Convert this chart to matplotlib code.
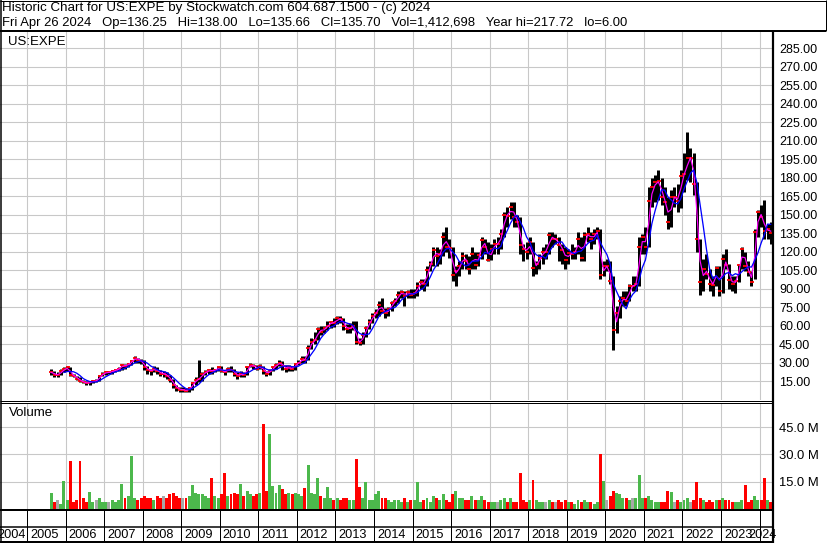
import numpy as np
import pandas as pd
import matplotlib
matplotlib.use("Agg")
import matplotlib.pyplot as plt
from matplotlib.transforms import offset_copy

plt.rcParams['font.family'] = ['Liberation Sans', 'DejaVu Sans']

W, H = 830, 543
PX = 0.72  # one pixel in points at 100 dpi

# monthly bars, Aug 2005 .. Apr 2024
first_year, first_month = 2005, 8

closes = [
    22, 20, 20, 23, 24.5,                                   # 2005
    26, 20, 19, 17, 15, 14, 13, 14, 15, 15, 19, 21,         # 2006
    22, 22, 23, 24, 25, 28, 27, 29, 31, 34, 32, 31,         # 2007
    26, 24, 23, 25, 23, 21, 21, 19, 16, 12, 9, 8,           # 2008
    8, 7, 9, 13, 16, 17, 21, 22, 24, 23, 24, 26,            # 2009
    23, 22, 25, 24, 21, 19, 21, 20, 26, 28, 27, 25,         # 2010
    27, 23, 21, 23, 26, 28, 30, 27, 25, 26, 25, 29,         # 2011
    30, 33, 32, 42, 47, 48, 57, 55, 58, 60, 63, 62,         # 2012
    66, 65, 60, 57, 58, 60, 47, 46, 52, 58, 63, 68,         # 2013
    70, 77, 72, 70, 73, 78, 80, 85, 87, 84, 87, 85,         # 2014
    86, 92, 95, 94, 105, 110, 121, 116, 118, 132, 124, 123, # 2015
    101, 104, 108, 116, 112, 106, 118, 109, 117, 129, 124, 113,  # 2016
    122, 126, 126, 134, 150, 149, 156, 148, 144, 125, 122, 120,  # 2017
    128, 107, 110, 115, 120, 120, 133, 130, 130, 125, 121, 113,  # 2018
    119, 118, 120, 130, 115, 133, 134, 130, 134, 137, 101, 108,  # 2019
    108, 96, 56, 70, 80, 82, 80, 92, 92, 94, 124, 132,           # 2020
    124, 161, 172, 176, 177, 164, 160, 144, 164, 164, 161, 181,  # 2021
    183, 196, 196, 175, 130, 95, 106, 102, 94, 93, 107, 88,      # 2022
    114, 109, 97, 94, 96, 109, 122, 108, 103, 95, 136, 152,      # 2023
    148, 137, 138, 135,                                          # 2024
]

highs = [
    25, 23, 22, 25, 26,
    27, 26, 21, 19, 18, 16, 15, 15, 16, 17, 20, 22,
    23, 23, 24, 25, 26, 29, 29, 30, 32, 35, 34, 33,
    32, 27, 25, 27, 26, 24, 23, 22, 20, 17, 12, 10,
    10, 9, 10, 14, 18, 32, 22, 24, 25, 26, 25, 27,
    27, 24, 26, 27, 25, 22, 23, 22, 27, 30, 29, 28,
    29, 27, 23, 25, 27, 30, 32, 31, 28, 28, 27, 30,
    32, 35, 35, 44, 50, 55, 59, 60, 60, 64, 64, 66,
    68, 68, 66, 61, 62, 64, 64, 50, 55, 60, 65, 70,
    73, 80, 82, 74, 75, 80, 82, 88, 89, 88, 89, 90,
    90, 95, 98, 98, 108, 112, 124, 124, 122, 136, 140, 130,
    124, 108, 112, 120, 118, 116, 124, 120, 120, 132, 130, 128,
    126, 130, 132, 138, 152, 156, 160, 160, 150, 148, 126, 128,
    132, 128, 112, 118, 124, 126, 136, 136, 134, 132, 126, 124,
    122, 126, 124, 136, 132, 136, 140, 136, 138, 140, 138, 112,
    114, 112, 100, 76, 84, 88, 88, 94, 100, 100, 132, 134,
    140, 172, 180, 182, 186, 180, 172, 164, 170, 172, 175, 186,
    200, 217, 204, 200, 176, 130, 114, 118, 106, 100, 108, 108,
    118, 122, 110, 100, 100, 110, 124, 120, 112, 104, 138, 154,
    158, 162, 142, 144,
]

lows = [
    20, 18, 18, 20, 22,
    23, 19, 18, 16, 14, 13, 12, 12, 13, 14, 15, 19,
    20, 21, 21, 22, 23, 24, 25, 26, 28, 30, 30, 29,
    24, 21, 20, 22, 21, 19, 18, 17, 14, 9, 7, 6,
    6, 6, 6, 8, 12, 14, 15, 20, 21, 21, 22, 23,
    22, 20, 22, 22, 19, 17, 18, 18, 20, 26, 25, 24,
    25, 21, 19, 20, 23, 25, 27, 24, 22, 23, 23, 24,
    28, 30, 30, 32, 41, 45, 48, 52, 54, 56, 58, 59,
    61, 62, 56, 54, 54, 56, 45, 44, 45, 51, 57, 62,
    66, 68, 70, 66, 68, 72, 76, 78, 82, 76, 82, 82,
    82, 84, 90, 88, 92, 104, 108, 108, 110, 116, 120, 115,
    96, 92, 100, 106, 106, 102, 106, 106, 108, 114, 118, 112,
    113, 118, 118, 122, 132, 140, 146, 140, 140, 118, 112, 114,
    118, 100, 102, 106, 110, 114, 118, 124, 126, 112, 110, 106,
    110, 114, 114, 118, 112, 112, 128, 122, 126, 130, 98, 100,
    104, 94, 40, 54, 66, 76, 76, 80, 88, 88, 92, 118,
    118, 124, 156, 160, 162, 158, 150, 138, 140, 156, 152, 155,
    168, 178, 176, 166, 120, 85, 88, 98, 88, 84, 92, 84,
    86, 106, 90, 88, 86, 95, 106, 104, 100, 92, 98, 132,
    140, 130, 130, 126,
]

# volume in millions of shares
volumes = [
    8.7, 4, 5, 3, 15.6,
    5, 26.5, 4, 5, 26.5, 6, 4, 9.6, 4, 5, 6, 4,
    4, 4, 5, 4, 5, 14, 6, 7, 29, 6, 5, 6,
    7, 6, 6, 5, 7, 6, 7, 6, 8, 9, 7, 6,
    6, 6, 7, 13, 9, 8, 8, 7, 6, 17, 7, 6,
    8, 19.6, 7, 8, 9, 8, 14, 7, 10, 8, 7, 8,
    9, 47, 10, 41.5, 12.7, 9, 13.4, 11, 8, 9, 8, 9,
    8, 7, 11.6, 24, 9, 8, 17, 7, 6, 12, 6, 5,
    6, 5, 6, 6, 5, 5, 27.7, 12, 6, 15, 5, 5,
    8, 10, 6, 6, 5, 4, 5, 5, 4, 6, 4, 5,
    5, 15, 4, 5, 6, 4, 7, 6, 5, 8, 5, 4,
    8, 10, 6, 6, 5, 5, 7, 5, 5, 7, 5, 4,
    4, 4, 4, 5, 6, 4, 6, 4, 4, 19.6, 5, 4,
    5, 16, 5, 4, 4, 4, 5, 4, 4, 5, 4, 5,
    4, 4, 3, 5, 4, 5, 4, 4, 3, 4, 30, 15.6,
    5, 7, 10, 9, 8, 6, 6, 5, 6, 6, 18.5, 6,
    6, 7, 5, 4, 4, 4, 4, 10, 9.5, 4, 5, 4,
    5, 6, 4, 5, 15, 6, 5, 4, 5, 4, 5, 5,
    6, 5, 5, 4, 4, 4, 5, 13, 4, 5, 7, 5,
    5, 17, 5, 4,
]

price_ticks = list(range(15, 286, 15))
vol_ticks = [15, 30, 45]
years = list(range(2004, 2025))

title_line = "Historic Chart for US:EXPE by Stockwatch.com 604.687.1500 - (c) 2024"
quote_line = ("Fri Apr 26 2024   Op=136.25   Hi=138.00   Lo=135.66   Cl=135.70   "
              "Vol=1,412,698   Year hi=217.72   lo=6.00")

n = len(closes)
t = first_year + (np.arange(n) + first_month - 1 + 0.5) / 12
s = pd.Series(closes, dtype=float)
ma_fast = s.rolling(2, min_periods=1).mean()
ma_slow = s.rolling(5, min_periods=5).mean()

chg = np.diff(np.r_[closes[0] - 1, closes])
vol_colors = np.where(chg > 0, '#4cb84c', np.where(chg < 0, '#ff0000', '#a8a8a8'))

XLIM = (2004.30, 2024.35)
GRID = '#c8c8c8'

fig = plt.figure(figsize=(W / 100, H / 100), dpi=100)
fig.patch.set_facecolor('white')


def px_axes(x0, y0, x1, y1):
    return fig.add_axes([x0 / W, 1 - y1 / H, (x1 - x0) / W, (y1 - y0) / H])


def style(ax, fs):
    ax.set_xlim(XLIM)
    ax.set_xticks(years[1:])
    ax.tick_params(axis='x', length=0, labelbottom=False)
    ax.yaxis.tick_right()
    ax.tick_params(axis='y', length=0, pad=4.3, labelsize=fs, labelcolor='black')
    ax.grid(True, color=GRID, lw=1.1 * PX)
    ax.set_axisbelow(True)
    for sp in ax.spines.values():
        sp.set_visible(False)


# price panel
ax = px_axes(0, 31, 773, 400)
style(ax, 9.0)
ax.set_ylim(-0.4, 298.8)
ax.set_yticks(price_ticks)
ax.set_yticklabels([f"{v:.2f}" for v in price_ticks])
ax.vlines(t, lows, highs, color='black', lw=3.0 * PX, zorder=3)
ax.plot(t + 0.01, closes, ls='none', marker='_', ms=3, mew=1.8 * PX,
        color='red', zorder=4)
ax.plot(t, ma_fast, color='#ff00ff', lw=1.2 * PX, zorder=5)
ax.plot(t, ma_slow, color='#0000ff', lw=1.3 * PX, zorder=5)
ax.text(8 / 773, 1 - 11 / 369, "US:EXPE", transform=ax.transAxes,
        ha='left', va='center', fontsize=9.5)

# volume panel
axv = px_axes(0, 403, 773, 509)
style(axv, 9.4)
axv.set_ylim(0, 58.3)
axv.set_yticks(vol_ticks)
axv.set_yticklabels([f"{v:.1f} M" for v in vol_ticks])
axv.bar(t, volumes, width=0.92 / 12, color=vol_colors, linewidth=0, zorder=3)
axv.text(9 / 773, 1 - 10 / 106, "Volume", transform=axv.transAxes,
         ha='left', va='center', fontsize=9.5)

# date strip
axd = px_axes(0, 509, 773, 541)
axd.set_xlim(XLIM)
axd.set_ylim(0, 1)
axd.axis('off')
axd.vlines(years[1:], 0, 1, color='black', lw=1 * PX)
lab_y = 1 - (535 - 509) / 32
YFS = 9.2
for yr in years:
    if yr == years[0]:
        tr = offset_copy(axd.transData, fig=fig, x=-1, y=0, units='dots')
        axd.text(yr + 1, lab_y, str(yr), transform=tr, ha='right', va='center',
                 fontsize=YFS, clip_on=False)
    elif yr == years[-1]:
        tr = offset_copy(axd.transAxes, fig=fig, x=4, y=0, units='dots')
        axd.text(1, lab_y, str(yr), transform=tr, ha='right', va='center',
                 fontsize=YFS, clip_on=False)
    else:
        tr = offset_copy(axd.transData, fig=fig, x=3, y=0, units='dots')
        axd.text(yr, lab_y, str(yr), transform=tr, ha='left', va='center',
                 fontsize=YFS, clip_on=False)

# frame and header drawn in pixel space
ov = fig.add_axes([0, 0, 1, 1])
ov.set_xlim(0, W)
ov.set_ylim(H, 0)
ov.axis('off')
ov.patch.set_alpha(0)
k = dict(color='black', solid_capstyle='butt')
ov.plot([0, 826], [0.5, 0.5], lw=1 * PX, **k)
ov.plot([825.5, 825.5], [0, 31], lw=1 * PX, **k)
ov.plot([0, 826], [30.5, 30.5], lw=2 * PX, **k)
ov.plot([0.5, 0.5], [0, 543], lw=1.5 * PX, **k)
ov.plot([773, 773], [30, 543], lw=2.2 * PX, **k)
ov.plot([0, 773], [400.5, 400.5], lw=1 * PX, **k)
ov.plot([0, 773], [403, 403], lw=1 * PX, **k)
ov.plot([0, 773], [509.5, 509.5], lw=2 * PX, **k)
ov.plot([0, 773], [526.8, 526.8], lw=1.5 * PX, **k)
ov.plot([0, 773], [541.5, 541.5], lw=2 * PX, **k)

# header lines: size them to the widths they have in the reference
renderer = fig.canvas.get_renderer()
for txt, y, width in [(title_line, 8.5, 428), (quote_line, 23, 626)]:
    h = ov.text(2, y, txt, ha='left', va='center', fontsize=9.5)
    w = h.get_window_extent(renderer).width
    h.set_fontsize(9.5 * width / w)

fig.savefig("out.png", dpi=100, facecolor='white')
